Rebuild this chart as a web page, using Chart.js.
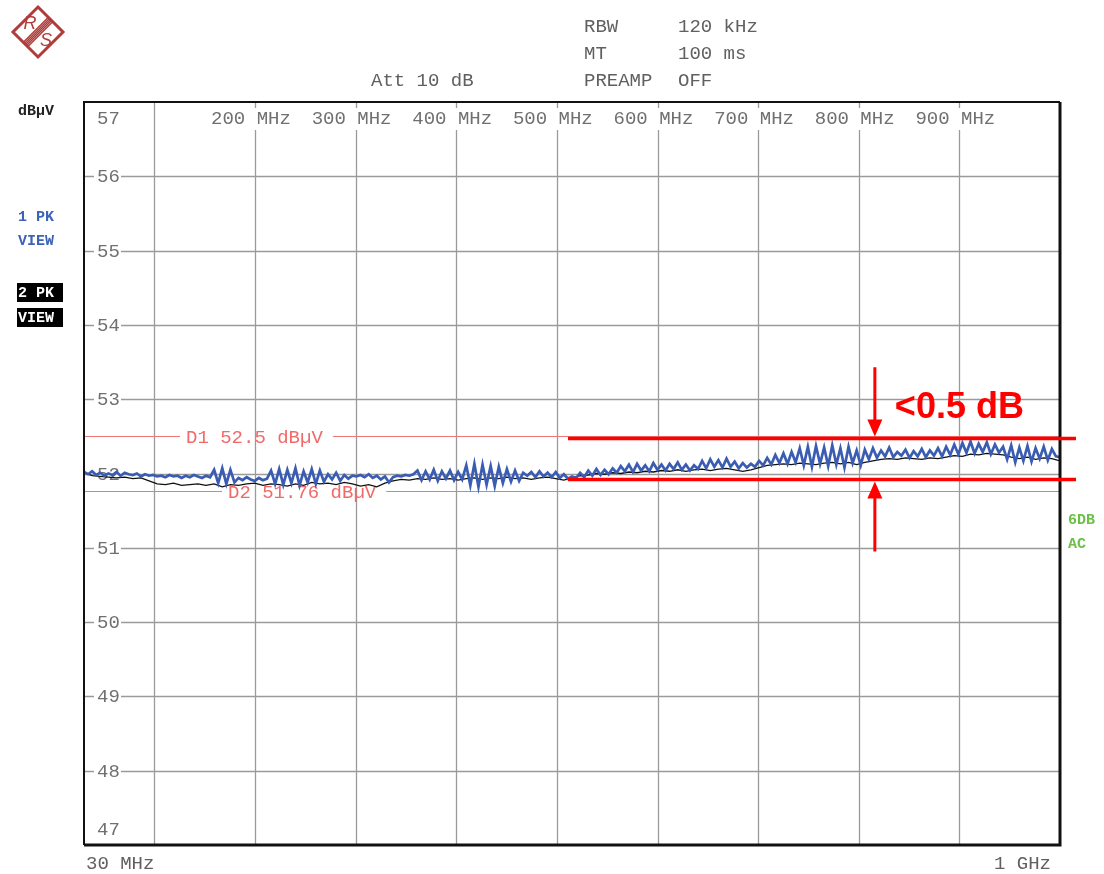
<!DOCTYPE html>
<html>
<head>
<meta charset="utf-8">
<script src="https://cdn.jsdelivr.net/npm/chart.js@4"></script>
<style>
    body { margin: 0; background: #fff; }
    canvas { display: block; }
</style>
</head>
<body>
<canvas id="specChart" width="1104" height="874"></canvas>
<script>
// sweep and display settings
const START_MHZ = 30;
const STOP_MHZ = 1000;
const REF_LEVEL = 57;
const BOTTOM_LEVEL = 47;
const yTicks = [57, 56, 55, 54, 53, 52, 51, 50, 49, 48, 47];
const xGrid = [100, 200, 300, 400, 500, 600, 700, 800, 900];
const xLabels = ['', '200 MHz', '300 MHz', '400 MHz', '500 MHz', '600 MHz', '700 MHz', '800 MHz', '900 MHz'];

// trace 1 (1 PK VIEW, blue), dBµV
const trace1 = [
    52.02, 51.99, 52.03, 51.98, 52.01, 51.97, 52.00, 51.98, 52.02, 51.97, 52.01, 51.99, 51.98, 52.00, 51.96, 51.99, 51.97,
    51.98, 51.96, 51.97, 51.95, 51.98, 51.96, 51.97, 51.94, 51.97, 51.95, 51.98, 51.96, 51.94, 51.97, 51.95,
    52.05, 51.87, 52.07, 51.86, 52.05, 51.88,
    51.94, 51.91, 51.95, 51.92, 51.90, 51.94, 51.91, 51.93,
    52.04, 51.86, 52.06, 51.85, 52.05, 51.87, 52.07, 51.84, 52.03, 51.88, 52.06, 51.86, 52.04, 51.89, 51.99, 51.92, 52.01, 51.90, 51.98, 51.93, 51.97,
    51.96, 51.98, 51.95, 51.99, 51.94, 51.97, 51.92, 51.96, 51.88, 51.95, 51.97, 51.96, 51.98, 51.97, 51.99,
    52.04, 51.91, 52.03, 51.92, 52.05, 51.90, 52.03, 51.93, 52.04, 51.91, 52.02, 51.92,
    52.11, 51.84, 52.13, 51.82, 52.12, 51.85, 52.10, 51.83, 52.09, 51.87, 52.06, 51.89, 52.04, 51.90, 52.01,
    51.97, 52.02, 51.95, 52.03, 51.96, 52.01, 51.95, 52.02, 51.94, 51.99, 51.93, 51.96,
    51.94, 52.01, 51.95, 52.04, 51.97, 52.06, 51.98, 52.05, 51.99, 52.07,
    52.01, 52.10, 52.03, 52.12, 52.02, 52.13, 52.04, 52.11, 52.03, 52.14, 52.05, 52.12, 52.04, 52.13, 52.06, 52.15, 52.05, 52.12,
    52.04, 52.11, 52.06, 52.17, 52.07, 52.19, 52.09, 52.18, 52.08, 52.20, 52.09, 52.16, 52.07, 52.14, 52.08, 52.13, 52.09,
    52.17, 52.11, 52.21, 52.12, 52.25, 52.14, 52.27, 52.13, 52.29, 52.15,
    52.34, 52.11, 52.36, 52.09, 52.37, 52.13, 52.35, 52.10, 52.38, 52.12, 52.34, 52.08, 52.36, 52.14, 52.31, 52.11,
    52.32, 52.19, 52.34, 52.21, 52.31, 52.23, 52.35, 52.22, 52.29, 52.24, 52.32, 52.21, 52.30, 52.23, 52.33, 52.22, 52.31, 52.24,
    52.34, 52.23, 52.36, 52.25,
    52.39, 52.26, 52.41, 52.28, 52.43, 52.27, 52.40, 52.29, 52.42, 52.26, 52.39, 52.28,
    52.36, 52.19, 52.38, 52.15, 52.35, 52.17, 52.37, 52.16, 52.34, 52.20, 52.36, 52.18, 52.33, 52.23, 52.22
];

// trace 2 (2 PK VIEW, black), dBµV
const trace2 = [
    52.01, 51.97, 51.96, 51.95, 51.94, 51.95, 51.93, 51.94, 51.90, 51.86, 51.85, 51.87, 51.84, 51.85, 51.86, 51.84,
    51.86, 51.82, 51.85, 51.84, 51.86, 51.87, 51.84, 51.86, 51.85, 51.83, 51.86, 51.84, 51.88, 51.86, 51.87, 51.85,
    51.88, 51.86, 51.83, 51.85, 51.82, 51.87, 51.90, 51.92, 51.91, 51.93, 51.92, 51.94, 51.92, 51.93, 51.91, 51.93,
    51.94, 51.92, 51.94, 51.93, 51.95, 51.93, 51.94, 51.92, 51.94, 51.95, 51.93, 51.91, 51.94, 51.97, 51.98, 52.00,
    51.99, 52.01, 52.00, 52.02, 52.01, 52.03, 52.02, 52.04, 52.03, 52.05, 52.03, 52.05, 52.06, 52.04, 52.06, 52.07,
    52.05, 52.03, 52.05, 52.08, 52.11, 52.12, 52.13, 52.12, 52.14, 52.13, 52.12, 52.14, 52.15, 52.13, 52.15, 52.12,
    52.15, 52.17, 52.19, 52.20, 52.19, 52.21, 52.20, 52.19, 52.21, 52.20, 52.22, 52.24, 52.23, 52.26, 52.25, 52.27,
    52.26, 52.25, 52.22, 52.20, 52.22, 52.19, 52.21, 52.20, 52.17
];

// display lines
const d1Level = 52.5;
const d2Level = 51.76;
const d1Label = 'D1 52.5 dBµV';
const d2Label = 'D2 51.76 dBµV';

// header
const settings = [['RBW', '120 kHz'], ['MT', '100 ms'], ['PREAMP', 'OFF']];
const attLabel = 'Att 10 dB';

// red annotation
const bracketTop = 52.47;
const bracketBottom = 51.92;
const bracketFrom = 511;
const arrowAt = 816;
const arrowTop = 53.43;
const arrowBottom = 50.95;
const bracketText = '<0.5 dB';

const MONO = '"Liberation Mono", "Courier New", monospace';

function sweep(values) {
    const step = (STOP_MHZ - START_MHZ) / (values.length - 1);
    return values.map((v, i) => ({ x: START_MHZ + i * step, y: v }));
}

const analyzerPlugin = {
    id: 'analyzer',
    beforeDatasetsDraw(chart) {
        const ctx = chart.ctx;
        const a = chart.chartArea;
        const xs = chart.scales.x;
        const ys = chart.scales.y;
        ctx.save();

        // grid
        ctx.strokeStyle = '#9a9a9a';
        ctx.lineWidth = 1.3;
        yTicks.forEach(v => {
            if (v === REF_LEVEL || v === BOTTOM_LEVEL) return;
            const y = Math.round(ys.getPixelForValue(v)) + 0.5;
            ctx.beginPath();
            ctx.moveTo(a.left, y);
            ctx.lineTo(a.right, y);
            ctx.stroke();
        });
        xGrid.forEach(f => {
            const x = Math.round(xs.getPixelForValue(f)) + 0.5;
            ctx.beginPath();
            ctx.moveTo(x, a.top);
            ctx.lineTo(x, a.bottom);
            ctx.stroke();
        });

        // level labels
        ctx.font = '19px ' + MONO;
        ctx.textBaseline = 'middle';
        ctx.textAlign = 'left';
        yTicks.forEach(v => {
            let y = ys.getPixelForValue(v);
            if (v === REF_LEVEL) y += 16;
            if (v === BOTTOM_LEVEL) y -= 16;
            ctx.fillStyle = '#fff';
            ctx.fillRect(a.left + 10, y - 9, 27, 18);
            ctx.fillStyle = '#707070';
            ctx.fillText(String(v), a.left + 13, y + 1);
        });

        // frequency labels along the top
        xGrid.forEach((f, i) => {
            if (!xLabels[i]) return;
            const x = xs.getPixelForValue(f);
            const w = ctx.measureText(xLabels[i]).width;
            ctx.fillStyle = '#fff';
            ctx.fillRect(x - 46, a.top + 6, w + 4, 22);
            ctx.fillStyle = '#707070';
            ctx.fillText(xLabels[i], x - 44, a.top + 17);
        });

        // display lines D1 / D2
        [[d1Level, d1Label, 102], [d2Level, d2Label, 144]].forEach(([lvl, txt, off]) => {
            const y = Math.round(ys.getPixelForValue(lvl)) + 0.5;
            const tx = a.left + off;
            const w = ctx.measureText(txt).width;
            ctx.strokeStyle = '#f07878';
            ctx.lineWidth = 1.2;
            ctx.beginPath();
            ctx.moveTo(a.left, y);
            ctx.lineTo(tx - 6, y);
            ctx.moveTo(tx + w + 10, y);
            ctx.lineTo(a.right, y);
            ctx.stroke();
            ctx.fillStyle = '#f06a6a';
            ctx.fillText(txt, tx, y + 1);
        });
        ctx.restore();
    },
    afterDatasetsDraw(chart) {
        const ctx = chart.ctx;
        const a = chart.chartArea;
        const xs = chart.scales.x;
        const ys = chart.scales.y;
        ctx.save();

        // frame
        ctx.strokeStyle = '#111';
        ctx.lineWidth = 2;
        ctx.beginPath();
        ctx.moveTo(a.left, a.bottom);
        ctx.lineTo(a.left, a.top);
        ctx.lineTo(a.right, a.top);
        ctx.stroke();
        ctx.lineWidth = 3;
        ctx.beginPath();
        ctx.moveTo(a.right, a.top);
        ctx.lineTo(a.right, a.bottom);
        ctx.lineTo(a.left, a.bottom);
        ctx.stroke();

        // red bracket annotation
        const red = '#ff0000';
        const x0 = xs.getPixelForValue(bracketFrom);
        const x1 = a.right + 16;
        const yT = ys.getPixelForValue(bracketTop);
        const yB = ys.getPixelForValue(bracketBottom);
        ctx.strokeStyle = red;
        ctx.lineWidth = 3.5;
        ctx.beginPath();
        ctx.moveTo(x0, yT); ctx.lineTo(x1, yT);
        ctx.moveTo(x0, yB); ctx.lineTo(x1, yB);
        ctx.stroke();

        const ax = xs.getPixelForValue(arrowAt);
        const yA = ys.getPixelForValue(arrowTop);
        const yZ = ys.getPixelForValue(arrowBottom);
        ctx.lineWidth = 3;
        ctx.beginPath();
        ctx.moveTo(ax, yA); ctx.lineTo(ax, yT - 14);
        ctx.moveTo(ax, yZ); ctx.lineTo(ax, yB + 14);
        ctx.stroke();
        ctx.fillStyle = red;
        ctx.beginPath();
        ctx.moveTo(ax, yT - 2); ctx.lineTo(ax - 7.5, yT - 19); ctx.lineTo(ax + 7.5, yT - 19);
        ctx.closePath();
        ctx.fill();
        ctx.beginPath();
        ctx.moveTo(ax, yB + 2); ctx.lineTo(ax - 7.5, yB + 19); ctx.lineTo(ax + 7.5, yB + 19);
        ctx.closePath();
        ctx.fill();

        ctx.font = 'bold 36px "Liberation Sans", Arial, sans-serif';
        ctx.textBaseline = 'alphabetic';
        ctx.textAlign = 'left';
        ctx.fillText(bracketText, ax + 20, yT - 21);
        ctx.restore();
    },
    afterDraw(chart) {
        const ctx = chart.ctx;
        ctx.save();
        ctx.textBaseline = 'middle';
        ctx.textAlign = 'left';

        // header settings
        ctx.font = '19px ' + MONO;
        ctx.fillStyle = '#606060';
        settings.forEach(([k, v], i) => {
            ctx.fillText(k, 584, 27 + i * 27);
            ctx.fillText(v, 678, 27 + i * 27);
        });
        ctx.fillText(attLabel, 371, 81);

        // sweep range
        ctx.fillText('30 MHz', 86, 864);
        ctx.fillText('1 GHz', 994, 864);

        // left side trace info
        ctx.font = 'bold 15px ' + MONO;
        ctx.fillStyle = '#222';
        ctx.fillText('dBµV', 18, 111);
        ctx.fillStyle = '#3d63b8';
        ctx.fillText('1 PK', 18, 217);
        ctx.fillText('VIEW', 18, 241);
        ctx.fillStyle = '#000';
        ctx.fillRect(17, 283, 46, 19);
        ctx.fillRect(17, 308, 46, 19);
        ctx.fillStyle = '#fff';
        ctx.fillText('2 PK', 18, 293);
        ctx.fillText('VIEW', 18, 318);

        // right side
        ctx.fillStyle = '#6cc04a';
        ctx.fillText('6DB', 1068, 520);
        ctx.fillText('AC', 1068, 544);

        // R&S logo
        const cx = 38, cy = 32, h = 25;
        const logo = '#b03c3a';
        ctx.strokeStyle = logo;
        ctx.lineWidth = 3;
        ctx.beginPath();
        ctx.moveTo(cx, cy - h); ctx.lineTo(cx + h, cy); ctx.lineTo(cx, cy + h); ctx.lineTo(cx - h, cy);
        ctx.closePath();
        ctx.stroke();
        ctx.lineWidth = 1.4;
        for (let k = -2; k <= 2; k++) {
            ctx.beginPath();
            ctx.moveTo(cx + 12 + k * 1.1, cy - 12 + k * 1.1);
            ctx.lineTo(cx - 12 + k * 1.1, cy + 12 + k * 1.1);
            ctx.stroke();
        }
        ctx.fillStyle = logo;
        ctx.font = 'italic 18px "Liberation Sans", Arial, sans-serif';
        ctx.textAlign = 'center';
        ctx.fillText('R', cx - 8, cy - 8);
        ctx.fillText('S', cx + 8, cy + 9);
        ctx.restore();
    }
};

new Chart(document.getElementById('specChart'), {
    type: 'line',
    data: {
        datasets: [{
            label: '1 PK VIEW',
            data: sweep(trace1),
            borderColor: '#3a5db3',
            borderWidth: 2.7,
            pointRadius: 0,
            tension: 0
        }, {
            label: '2 PK VIEW',
            data: sweep(trace2),
            borderColor: '#111',
            borderWidth: 1.3,
            pointRadius: 0,
            tension: 0
        }]
    },
    options: {
        responsive: false,
        animation: false,
        devicePixelRatio: 1,
        layout: { padding: { left: 84, top: 102, right: 44, bottom: 29 } },
        plugins: {
            legend: { display: false },
            tooltip: { enabled: false }
        },
        scales: {
            x: { type: 'linear', min: START_MHZ, max: STOP_MHZ, display: false },
            y: { min: BOTTOM_LEVEL, max: REF_LEVEL, display: false }
        }
    },
    plugins: [analyzerPlugin]
});
</script>
</body>
</html>
